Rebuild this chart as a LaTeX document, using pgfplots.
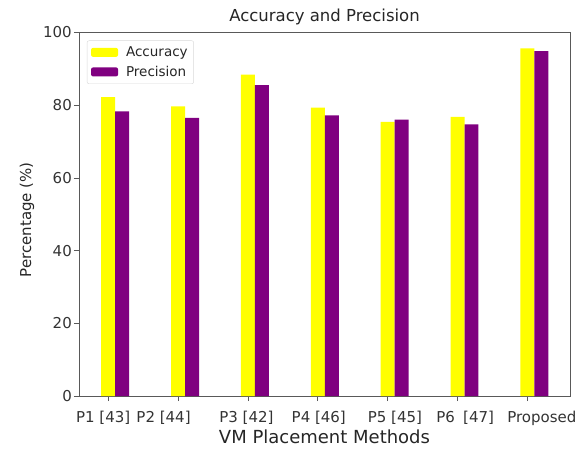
\documentclass[border=0pt]{standalone}
\usepackage{fontspec}
\setmainfont{DejaVu Sans}
\usepackage{pgfplots}
\pgfplotsset{compat=1.18}
\definecolor{accY}{RGB}{255,255,0}
\definecolor{precP}{RGB}{128,0,128}
\begin{document}
\begin{tikzpicture}
\begin{axis}[
  scale only axis,
  width=491pt, height=363.5pt,
  xmin=-0.418, xmax=6.61,
  ymin=0, ymax=100,
  ytick={0,20,40,60,80,100},
  xtick={0,1,2,3,4,5,6},
  xtick pos=bottom, ytick pos=left,
  xticklabels={{\hspace*{-10pt}P1 [43]},{\hspace*{-29pt}P2 [44]},{\hspace*{-3pt}P3 [42]},{\hspace*{2pt}P4 [46]},{\hspace*{14.6pt}P5 [45]},{\hspace*{15.4pt}P6\hspace{0.55em}[47]},{\hspace*{29pt}Proposed}},
  tick align=outside,
  major tick length=5pt,
  tick style={color=black!65, line width=0.8pt},
  axis line style={black!65, line width=0.9pt},
  /pgf/number format/assume math mode=true,
  ticklabel style={font=\fontsize{15}{18}\selectfont, text=black!80},
  yticklabel style={inner sep=2pt},
  xticklabel style={anchor=base, yshift=-21pt},
  title={Accuracy and Precision},
  title style={font=\fontsize{16.5}{20}\selectfont, text=black!85, at={(0.5,1)}, anchor=base, yshift=5.5pt},
  ylabel={Percentage (\%)},
  ylabel style={at={(axis description cs:-0.106,0.485)}, anchor=center, font=\fontsize{15}{18}\selectfont, text=black!85},
  xlabel={VM Placement Methods},
  xlabel style={at={(axis description cs:0.5,0)}, anchor=base, yshift=-47pt, font=\fontsize{18}{22}\selectfont, text=black!85},
  legend style={at={(0.016,0.978)}, anchor=north west, draw=black!15, rounded corners=2pt, font=\fontsize{13.5}{16}\selectfont, text=black!85, inner xsep=4pt, inner ysep=4pt, row sep=4pt, cells={anchor=west}},
  legend image code/.code={\path[#1] (0pt,-4.5pt) rectangle (27pt,4.5pt); \path (33pt,0pt);},
]
\addplot[ybar, bar width=0.2, bar shift=0pt, fill=accY, draw=none]
  coordinates {(0,82.2) (1,79.7) (2,88.4) (3,79.3) (4,75.4) (5,76.8) (6,95.6)};
\addlegendentry{Accuracy}
\addplot[ybar, bar width=0.2, bar shift=0pt, fill=precP, draw=none]
  coordinates {(0.2,78.3) (1.2,76.5) (2.2,85.5) (3.2,77.2) (4.2,76.0) (5.2,74.7) (6.2,94.9)};
\addlegendentry{Precision}
\coordinate (O) at (rel axis cs:0,0);
\end{axis}
\pgfresetboundingbox
\path[use as bounding box] (O) ++(-79pt,-52pt) rectangle ++(587pt,448pt);
\end{tikzpicture}
\end{document}
